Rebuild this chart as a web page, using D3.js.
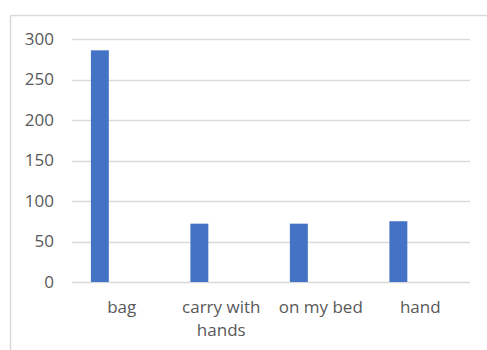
<!DOCTYPE html>
<html>
<head>
<meta charset="utf-8">
<script src="https://cdn.jsdelivr.net/npm/d3@7"></script>
<style>
  body { margin: 0; background: #fff; }
  text { font-family: "Open Sans", sans-serif; fill: #595959; }
</style>
</head>
<body>
<script>
// chart data
const categories = ["bag", "carry with hands", "on my bed", "hand"];
const counts = [286, 72, 72, 75];
const yTicks = [0, 50, 100, 150, 200, 250, 300];

const W = 487, H = 350;
const plot = { left: 72, right: 470, top: 39, bottom: 282 };

const svg = d3.select("body").append("svg")
    .attr("width", W)
    .attr("height", H);

// chart frame (cut off on right and bottom like the screenshot)
svg.append("rect")
    .attr("x", 10.5).attr("y", 15.5)
    .attr("width", 600).attr("height", 500)
    .attr("fill", "none")
    .attr("stroke", "#d9d9d9")
    .attr("stroke-width", 1.5);

const x = d3.scaleBand()
    .domain(categories)
    .range([plot.left, plot.right])
    .padding(0);

const y = d3.scaleLinear()
    .domain([0, 300])
    .range([plot.bottom, plot.top]);

// gridlines
svg.append("g").selectAll("line")
    .data(yTicks)
    .join("line")
      .attr("x1", plot.left)
      .attr("x2", plot.right)
      .attr("y1", d => Math.round(y(d)) + 0.5)
      .attr("y2", d => Math.round(y(d)) + 0.5)
      .attr("stroke", "#d9d9d9")
      .attr("stroke-width", 1.5);

// y tick labels
svg.append("g").selectAll("text")
    .data(yTicks)
    .join("text")
      .attr("x", 54)
      .attr("y", d => y(d))
      .attr("dy", "0.35em")
      .attr("text-anchor", "end")
      .style("font-size", "17px")
      .text(d => d);

// bars sit left of centre in each slot
const barOffset = 0.19, barWidth = 0.18;
svg.append("g").selectAll("rect")
    .data(categories.map((c, i) => ({ cat: c, value: counts[i] })))
    .join("rect")
      .attr("x", d => x(d.cat) + x.bandwidth() * barOffset)
      .attr("y", d => y(d.value))
      .attr("width", x.bandwidth() * barWidth)
      .attr("height", d => y(0) - y(d.value))
      .attr("fill", "#4472c4");

// category labels, wrapped to the slot width
const labels = svg.append("g").selectAll("text")
    .data(categories)
    .join("text")
      .attr("x", d => x(d) + x.bandwidth() / 2)
      .attr("y", 313)
      .attr("text-anchor", "middle")
      .style("font-size", "17px")
      .text(d => d);

labels.each(function(d) {
    const t = d3.select(this);
    const words = d.split(" ");
    const maxW = x.bandwidth() - 8;
    let line = [];
    let lineNo = 0;
    t.text(null);
    let tspan = t.append("tspan").attr("x", x(d) + x.bandwidth() / 2).attr("dy", 0);
    words.forEach(w => {
        line.push(w);
        tspan.text(line.join(" "));
        if (tspan.node().getComputedTextLength() > maxW && line.length > 1) {
            line.pop();
            tspan.text(line.join(" "));
            line = [w];
            lineNo++;
            tspan = t.append("tspan")
                .attr("x", x(d) + x.bandwidth() / 2)
                .attr("dy", 23)
                .text(w);
        }
    });
});
</script>
</body>
</html>
